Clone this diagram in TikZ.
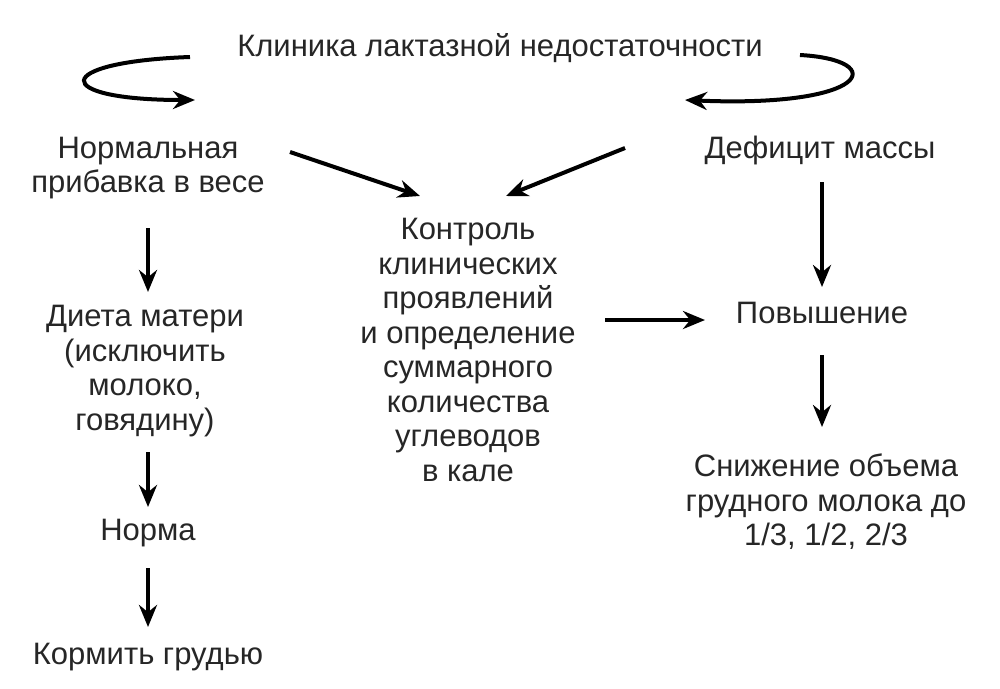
\documentclass[tikz,border=0pt]{standalone}
\usepackage{fontspec}
\setmainfont{Liberation Sans}
\usetikzlibrary{arrows.meta}
\begin{document}
\begin{tikzpicture}[x=1pt,y=-1pt,
  lbl/.style={align=center,font=\fontsize{31}{34.5}\selectfont,inner sep=0pt,text=black!85},
  arr/.style={line width=4pt,-{Stealth[length=22pt,width=18pt]}}]
\useasboundingbox (0,0) rectangle (1000,688);
\node[lbl] (t) at (500,48) {Клиника лактазной недостаточности};
\node[lbl] (n) at (148,168) {Нормальная\\прибавка в весе};
\node[lbl] (d) at (820,150) {Дефицит массы};
\node[lbl] (k) at (468,350) {Контроль\\клинических\\проявлений\\и определение\\суммарного\\количества\\углеводов\\в кале};
\node[lbl] (p) at (822,313) {Повышение};
\node[lbl] (s) at (826,502) {Снижение объема\\грудного молока до\\1/3, 1/2, 2/3};
\node[lbl] (m) at (145,371) {Диета матери\\(исключить\\молоко,\\говядину)};
\node[lbl] (no) at (148,533) {Норма};
\node[lbl] (kg) at (148,657) {Кормить грудью};
\coordinate (a1) at (190,57); \coordinate (a2) at (195,100);
\coordinate (b1) at (800,55); \coordinate (b2) at (685,100);
\draw[arr] (a1) .. controls (50,62) and (50,100) .. (a2);
\draw[arr] (b1) .. controls (890,60) and (870,108) .. (b2);
\draw[arr] (148,228) -- (148,292);
\draw[arr] (148,452) -- (148,507);
\draw[arr] (148,568) -- (148,627);
\draw[arr] (822,182) -- (822,287);
\draw[arr] (822,355) -- (822,427);
\draw[arr] (290,152) -- (420,196);
\draw[arr] (625,148) -- (506,196);
\draw[arr] (605,320) -- (705,320);
\end{tikzpicture}
\end{document}
